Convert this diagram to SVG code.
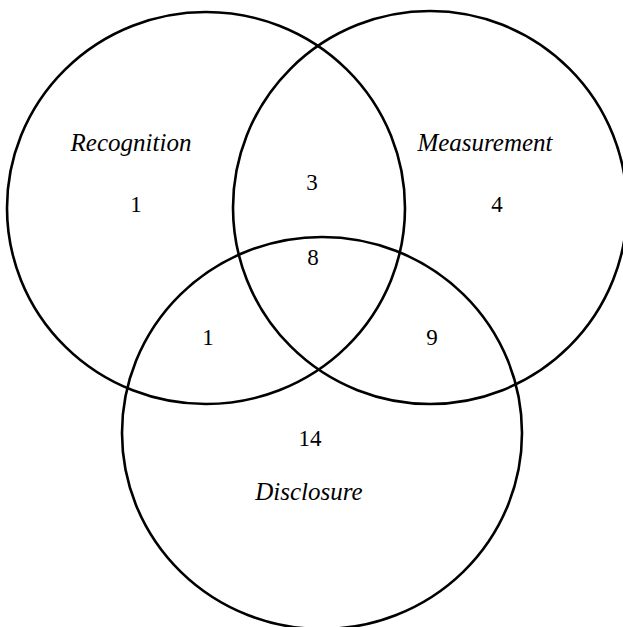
<svg xmlns="http://www.w3.org/2000/svg" width="623" height="627" viewBox="0 0 623 627">
<style>
.c{fill:none;stroke:#000;stroke-width:2.6}
.t{font-family:"Liberation Serif","Times New Roman",serif;font-size:23px;fill:#000;text-anchor:middle}
.i{font-style:italic;font-size:25px}
</style>
<rect width="623" height="627" fill="#fff"/>
<g id="recognition">
<ellipse class="c" cx="206" cy="208" rx="199" ry="196"/>
<text class="t i" x="131" y="151">Recognition</text>
<text class="t" x="136" y="212">1</text>
</g>
<g id="measurement">
<ellipse class="c" cx="430" cy="207.5" rx="197" ry="196.5"/>
<text class="t i" x="485" y="151">Measurement</text>
<text class="t" x="497" y="212">4</text>
</g>
<g id="disclosure">
<ellipse class="c" cx="322" cy="433" rx="200" ry="196"/>
<text class="t i" x="309" y="500">Disclosure</text>
<text class="t" x="310" y="446">14</text>
</g>
<g id="overlaps">
<text class="t" x="312" y="190">3</text>
<text class="t" x="313" y="265">8</text>
<text class="t" x="208" y="345">1</text>
<text class="t" x="432" y="345">9</text>
</g>
</svg>
